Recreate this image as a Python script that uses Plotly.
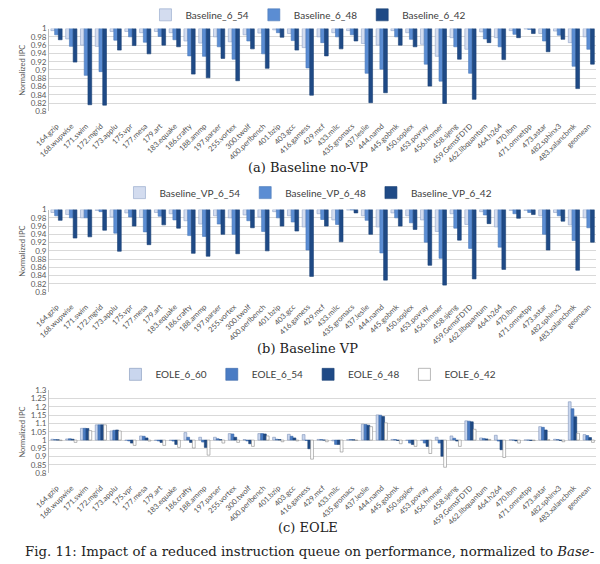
import plotly.graph_objects as go

categories = ["164.gzip", "168.wupwise", "171.swim", "172.mgrid", "173.applu", "175.vpr",
              "177.mesa", "179.art", "183.equake", "186.crafty", "188.ammp", "197.parser",
              "255.vortex", "300.twolf", "400.perlbench", "401.bzip", "403.gcc", "416.gamess",
              "429.mcf", "433.milc", "435.gromacs", "437.leslie", "444.namd", "445.gobmk",
              "450.soplex", "453.povray", "456.hmmer", "458.sjeng", "459.GemsFDTD",
              "462.libquantum", "464.h264", "470.lbm", "471.omnetpp", "473.astar",
              "482.sphinx3", "483.xalancbmk", "geomean"]

# (a) Baseline no-VP
base_6_54 = [0.995, 0.975, 0.960, 0.957, 0.993, 0.993, 0.990, 0.993, 0.990, 0.970, 0.965, 0.980,
             0.968, 0.985, 0.989, 0.997, 0.988, 0.954, 0.980, 0.990, 0.995, 0.964, 0.960, 0.995,
             0.990, 0.962, 0.933, 0.978, 0.950, 0.992, 0.978, 0.995, 0.999, 0.988, 0.994, 0.966, 0.980]
base_6_48 = [0.985, 0.957, 0.887, 0.896, 0.972, 0.980, 0.967, 0.981, 0.973, 0.934, 0.933, 0.956,
             0.926, 0.970, 0.939, 0.990, 0.971, 0.905, 0.966, 0.980, 0.985, 0.892, 0.902, 0.980,
             0.974, 0.914, 0.873, 0.956, 0.892, 0.975, 0.956, 0.986, 0.998, 0.970, 0.984, 0.909, 0.950]
base_6_42 = [0.973, 0.919, 0.816, 0.815, 0.948, 0.959, 0.939, 0.960, 0.956, 0.890, 0.881, 0.928,
             0.874, 0.951, 0.904, 0.979, 0.948, 0.839, 0.934, 0.951, 0.970, 0.821, 0.845, 0.960,
             0.956, 0.861, 0.819, 0.926, 0.829, 0.966, 0.925, 0.978, 0.988, 0.944, 0.974, 0.855, 0.914]

# (b) Baseline VP
vp_6_54 = [0.993, 0.988, 0.980, 0.998, 0.982, 0.992, 0.981, 0.993, 0.990, 0.973, 0.965, 0.985,
           0.980, 0.987, 0.982, 0.995, 0.985, 0.958, 0.990, 0.975, 0.999, 0.985, 0.958, 0.992,
           0.985, 0.975, 0.947, 0.990, 0.964, 0.995, 0.958, 0.998, 0.998, 0.985, 0.993, 0.963, 0.980]
vp_6_48 = [0.985, 0.980, 0.980, 0.995, 0.943, 0.982, 0.946, 0.984, 0.975, 0.937, 0.935, 0.965,
           0.940, 0.973, 0.947, 0.980, 0.970, 0.902, 0.976, 0.964, 0.999, 0.974, 0.895, 0.980,
           0.968, 0.921, 0.882, 0.955, 0.906, 0.987, 0.909, 0.990, 0.993, 0.940, 0.985, 0.925, 0.956]
vp_6_42 = [0.974, 0.931, 0.934, 0.950, 0.899, 0.960, 0.915, 0.963, 0.955, 0.894, 0.887, 0.940,
           0.893, 0.956, 0.900, 0.960, 0.948, 0.838, 0.960, 0.922, 0.992, 0.940, 0.829, 0.960,
           0.952, 0.865, 0.817, 0.926, 0.832, 0.966, 0.855, 0.979, 0.988, 0.902, 0.972, 0.853, 0.921]

# (c) EOLE
eole_6_60 = [1.005, 1.007, 1.071, 1.092, 1.055, 0.998, 1.025, 0.998, 0.998, 1.045, 1.017, 1.017,
             1.039, 1.003, 1.039, 1.017, 1.035, 1.033, 1.004, 0.995, 1.002, 1.096, 1.152, 1.004,
             0.998, 0.998, 1.017, 1.025, 1.116, 1.013, 1.029, 1.002, 1.001, 1.081, 1.005, 1.231, 1.033]
eole_6_54 = [1.003, 1.008, 1.071, 1.092, 1.059, 0.995, 1.023, 0.995, 0.994, 1.017, 0.988, 1.008,
             1.037, 0.995, 1.039, 1.005, 1.023, 0.998, 1.003, 0.974, 1.003, 1.094, 1.150, 1.003,
             0.982, 0.982, 0.982, 1.011, 1.114, 1.010, 0.994, 1.000, 1.000, 1.077, 1.003, 1.189, 1.027]
eole_6_48 = [1.002, 1.005, 1.070, 1.092, 1.061, 0.982, 1.013, 0.986, 0.974, 0.986, 0.956, 1.003,
             1.017, 0.978, 1.037, 1.003, 1.013, 0.948, 1.000, 0.974, 1.002, 1.090, 1.142, 0.998,
             0.974, 0.962, 0.903, 0.994, 1.110, 1.007, 0.942, 0.995, 0.998, 1.061, 0.998, 1.140, 1.015]
eole_6_42 = [0.997, 0.986, 1.057, 1.092, 1.055, 0.968, 0.994, 0.968, 0.956, 0.952, 0.909, 0.982,
             0.986, 0.962, 1.025, 0.990, 0.995, 0.885, 0.990, 0.928, 0.998, 1.081, 1.104, 0.978,
             0.962, 0.919, 0.836, 0.962, 1.065, 1.004, 0.895, 0.982, 0.997, 1.002, 0.990, 1.041, 0.986]

yticks_ab = [0.8, 0.82, 0.84, 0.86, 0.88, 0.9, 0.92, 0.94, 0.96, 0.98, 1.0]
yticks_c = [0.8, 0.85, 0.9, 0.95, 1.0, 1.05, 1.1, 1.15, 1.2, 1.25, 1.3]

W, H = 600, 564
FONT = "Lato"
TICK_COLOR = "#595959"

def py(px):
    return 1 - px / H

fig = go.Figure()

panels = [
    ("x", "y", "legend", [("Baseline_6_54", base_6_54, "#d3dcef", "#8fa3c8"),
                          ("Baseline_6_48", base_6_48, "#5b8dd3", "#4a78b8"),
                          ("Baseline_6_42", base_6_42, "#1f4a86", "#1a3f73")]),
    ("x2", "y2", "legend2", [("Baseline_VP_6_54", vp_6_54, "#d3dcef", "#8fa3c8"),
                             ("Baseline_VP_6_48", vp_6_48, "#5b8dd3", "#4a78b8"),
                             ("Baseline_VP_6_42", vp_6_42, "#1f4a86", "#1a3f73")]),
    ("x3", "y3", "legend3", [("EOLE_6_60", eole_6_60, "#c9d6ee", "#7f93b8"),
                             ("EOLE_6_54", eole_6_54, "#4a7cc4", "#3a68a8"),
                             ("EOLE_6_48", eole_6_48, "#1f4a86", "#1a3f73"),
                             ("EOLE_6_42", eole_6_42, "#ffffff", "#8a8a8a")]),
]

for xa, ya, lg, series in panels:
    for name, vals, fill, line in series:
        fig.add_trace(go.Bar(
            x=categories, y=[v - 1 for v in vals], base=1, name=name,
            xaxis=xa, yaxis=ya, legend=lg,
            marker=dict(color=fill, line=dict(color=line, width=0.6)),
            customdata=vals, hovertemplate="%{x}: %{customdata}<extra>" + name + "</extra>",
        ))

x_dom = [35 / W, 596 / W]
plot_px = [(24, 108.3), (208.3, 292.3), (392.3, 476.7)]

xcommon = dict(type="category", tickangle=-45, tickfont=dict(family=FONT, size=7.5, color="#505050"),
               showgrid=False, showline=False, ticks="", domain=x_dom, ticklabelstandoff=8)
ycommon = dict(showgrid=True, gridcolor="#d9d9d9", gridwidth=1, showline=True, linecolor="#bfbfbf",
               linewidth=1, ticks="", tickfont=dict(family=FONT, size=8, color=TICK_COLOR),
               zeroline=False, fixedrange=True)

fig.update_layout(
    xaxis=dict(**xcommon, anchor="y"),
    xaxis2=dict(**xcommon, anchor="y2"),
    xaxis3=dict(**xcommon, anchor="y3"),
    yaxis=dict(**ycommon, anchor="x", range=[0.8, 1.0], tickvals=yticks_ab,
               ticktext=[f"{t:g}" for t in yticks_ab],
               domain=[py(plot_px[0][1]), py(plot_px[0][0])]),
    yaxis2=dict(**ycommon, anchor="x2", range=[0.8, 1.0], tickvals=yticks_ab,
                ticktext=[f"{t:g}" for t in yticks_ab],
                domain=[py(plot_px[1][1]), py(plot_px[1][0])]),
    yaxis3=dict(**ycommon, anchor="x3", range=[0.8, 1.3], tickvals=yticks_c,
                ticktext=[f"{t:g}" for t in yticks_c],
                domain=[py(plot_px[2][1]), py(plot_px[2][0])]),
    barmode="group", bargap=0.24, bargroupgap=0,
    width=W, height=H, margin=dict(l=0, r=0, t=0, b=0),
    paper_bgcolor="white", plot_bgcolor="white",
    font=dict(family=FONT),
)

legend_common = dict(orientation="h", xanchor="center", yanchor="middle", x=301 / W,
                     font=dict(family=FONT, size=10, color="#404040"), itemwidth=30,
                     bgcolor="rgba(0,0,0,0)", itemclick=False, itemdoubleclick=False)
fig.update_layout(
    legend=dict(**legend_common, y=py(10)),
    legend2=dict(**legend_common, y=py(191)),
    legend3=dict(**legend_common, y=py(376)),
)

annotations = []
for top, bot in plot_px:
    annotations.append(dict(text="Normalized IPC", x=8 / W, y=py((top + bot) / 2), xref="paper", yref="paper",
                            showarrow=False, textangle=-90, font=dict(family=FONT, size=7.5, color=TICK_COLOR),
                            xanchor="center", yanchor="middle"))
captions = [("(a) Baseline no-VP", 165), ("(b) Baseline VP", 350), ("(c) EOLE", 532)]
for txt, ypx in captions:
    annotations.append(dict(text=txt, x=0.5, y=py(ypx), xref="paper", yref="paper", showarrow=False,
                            font=dict(family="DejaVu Serif", size=13, color="#222222"),
                            xanchor="center", yanchor="middle"))
annotations.append(dict(text="Fig. 11: Impact of a reduced instruction queue on performance, normalized to <i>Base-</i>",
                        x=302 / W, y=py(556), xref="paper", yref="paper", showarrow=False,
                        font=dict(family="DejaVu Serif", size=13.3, color="#222222"),
                        xanchor="center", yanchor="middle"))
fig.update_layout(annotations=annotations)

fig.write_html("out.html")
